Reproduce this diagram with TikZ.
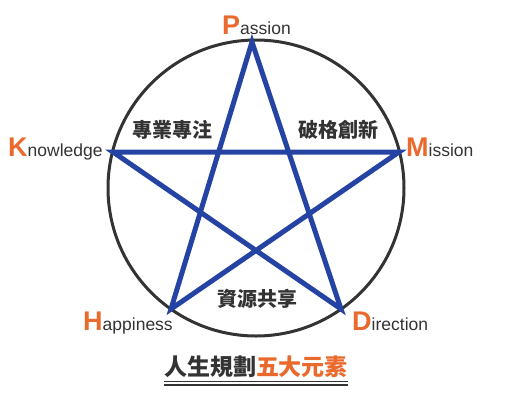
\documentclass[tikz,border=0pt]{standalone}
\usepackage{fontspec}
\setmainfont{Liberation Sans}
\newfontfamily\cjk{Noto Sans CJK TC}
\definecolor{txt}{HTML}{333333}
\definecolor{org}{HTML}{EA6A2E}
\definecolor{starblue}{HTML}{2443A3}
\begin{document}
\begin{tikzpicture}[x=1pt,y=-1pt,
  lbl/.style={inner sep=0pt,anchor=base west,text=txt,font=\fontsize{17.5}{20}\selectfont},
  ini/.style={text=org,font=\fontsize{27}{30}\selectfont\bfseries},
  zh/.style={inner sep=0pt,text=txt,font=\cjk\fontsize{20}{22}\selectfont\bfseries},
  starline/.style={draw=starblue,line width=5pt,line join=miter},
  ring/.style={draw=txt,line width=3pt}]
\useasboundingbox (0,0) rectangle (520,400);
\coordinate (C) at (256,188);
\draw[ring] (C) circle[radius=148];
\coordinate (P) at (252,42);
\coordinate (K) at (113,152);
\coordinate (M) at (399,152);
\coordinate (H) at (171,309);
\coordinate (D) at (341,309);
\draw[starline] (P) -- (H) -- (M) -- (K) -- (D) -- cycle;
\node[lbl] (lp) at (222,34) {\textcolor{org}{\fontsize{27}{30}\selectfont\bfseries P}assion};
\node[lbl] (lk) at (8,156) {\textcolor{org}{\fontsize{27}{30}\selectfont\bfseries K}nowledge};
\node[lbl] (lm) at (406,156) {\textcolor{org}{\fontsize{27}{30}\selectfont\bfseries M}ission};
\node[lbl] (lh) at (83,330) {\textcolor{org}{\fontsize{27}{30}\selectfont\bfseries H}appiness};
\node[lbl] (ld) at (352,330) {\textcolor{org}{\fontsize{27}{30}\selectfont\bfseries D}irection};
\node[zh] (z1) at (172,130) {專業專注};
\node[zh] (z2) at (338,130) {破格創新};
\node[zh] (z3) at (257,299) {資源共享};
\node[zh,font=\cjk\fontsize{23}{25}\selectfont\bfseries] (title) at (256,367) {人生規劃\textcolor{org}{五大元素}};
\draw[txt,line width=1.5pt] (164,381.5) -- (348,381.5);
\draw[txt,line width=1.5pt] (164,385) -- (348,385);
\end{tikzpicture}
\end{document}
